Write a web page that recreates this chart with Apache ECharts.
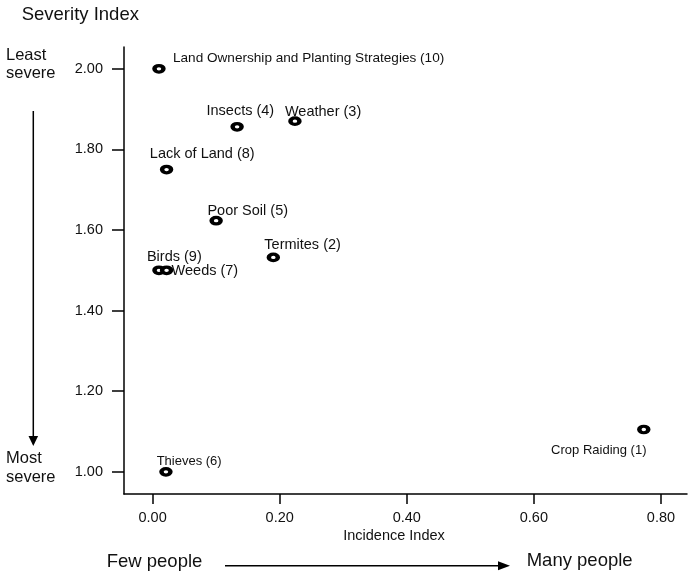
<!DOCTYPE html>
<html>
<head>
<meta charset="utf-8">
<script src="https://cdn.jsdelivr.net/npm/echarts@6/dist/echarts.min.js"></script>
<style>
html,body{margin:0;padding:0;background:#fff;}
#chart{width:695px;height:578px;}
</style>
</head>
<body>
<div id="chart"></div>
<script>
// ---- data ----
var names = ['Land Ownership and Planting Strategies (10)', 'Insects (4)', 'Weather (3)', 'Lack of Land (8)', 'Poor Soil (5)', 'Termites (2)', 'Birds (9)', 'Weeds (7)', 'Thieves (6)', 'Crop Raiding (1)'];
var incidence = [0.010, 0.133, 0.224, 0.022, 0.100, 0.190, 0.010, 0.022, 0.021, 0.773];
var severity = [2.00, 1.856, 1.870, 1.750, 1.623, 1.532, 1.500, 1.500, 1.000, 1.105];
var xTicks = [0, 0.2, 0.4, 0.6, 0.8];
var yTicks = [1.0, 1.2, 1.4, 1.6, 1.8, 2.0];

// ---- label styling (positions relative to marker) ----
var labelStyle = {
  'Land Ownership and Planting Strategies (10)': {offset: [14, -11], size: 13.6},
  'Insects (4)': {offset: [-30.6, -16], size: 14.5},
  'Weather (3)': {offset: [-10, -9.5], size: 14.5},
  'Lack of Land (8)': {offset: [-16.7, -16], size: 14.5},
  'Poor Soil (5)': {offset: [-8.7, -10], size: 14.5},
  'Termites (2)': {offset: [-9, -12.3], size: 14.5},
  'Birds (9)': {offset: [-12, -13.3], size: 14.5},
  'Weeds (7)': {offset: [5, 1], size: 14.5},
  'Thieves (6)': {offset: [-9.3, -10.6], size: 13},
  'Crop Raiding (1)': {offset: [2.7, 20.7], size: 13, align: 'right'}
};

var FONT = '"Liberation Sans", Arial, sans-serif';
var TXT = '#111';

var data = names.map(function (n, i) {
  var s = labelStyle[n];
  return {
    name: n,
    value: [incidence[i], severity[i]],
    label: {
      show: true,
      position: 'inside',
      formatter: n,
      align: s.align || 'left',
      verticalAlign: 'middle',
      offset: s.offset,
      fontSize: s.size,
      fontFamily: FONT,
      color: TXT
    }
  };
});

var chart = echarts.init(document.getElementById('chart'), null, {renderer: 'canvas'});
chart.setOption({
  backgroundColor: '#fff',
  animation: false,
  grid: {left: 124, top: 47, right: 8, bottom: 84},
  xAxis: {
    type: 'value',
    min: -0.045,
    max: 0.841,
    splitLine: {show: false},
    axisLine: {show: true, onZero: false, lineStyle: {color: '#000', width: 1.5}},
    axisTick: {show: true, length: 10, customValues: xTicks, lineStyle: {color: '#000', width: 1.5}},
    axisLabel: {
      customValues: xTicks, margin: 16,
      formatter: function (v) { return v.toFixed(2); },
      fontSize: 14.5, fontFamily: FONT, color: TXT
    }
  },
  yAxis: {
    type: 'value',
    min: 0.945,
    max: 2.054,
    splitLine: {show: false},
    axisLine: {show: true, onZero: false, lineStyle: {color: '#000', width: 1.5}},
    axisTick: {show: true, length: 12, customValues: yTicks, lineStyle: {color: '#000', width: 1.5}},
    axisLabel: {
      customValues: yTicks, margin: 21,
      formatter: function (v) { return v.toFixed(2); },
      fontSize: 14.5, fontFamily: FONT, color: TXT
    }
  },
  series: [{
    type: 'scatter',
    symbol: 'circle',
    symbolSize: [9, 6.5],
    itemStyle: {color: '#fff', borderColor: '#000', borderWidth: 3.8, opacity: 1},
    data: data,
    z: 5
  }],
  graphic: [
    {type: 'text', left: 21.7, top: 5, style: {text: 'Severity Index', font: '18.5px ' + FONT, fill: TXT}},
    {type: 'text', left: 6, top: 47, style: {text: 'Least', font: '16.5px ' + FONT, fill: TXT}},
    {type: 'text', left: 6, top: 65, style: {text: 'severe', font: '16.5px ' + FONT, fill: TXT}},
    {type: 'text', left: 6, top: 450, style: {text: 'Most', font: '16.5px ' + FONT, fill: TXT}},
    {type: 'text', left: 6, top: 469, style: {text: 'severe', font: '16.5px ' + FONT, fill: TXT}},
    {type: 'line', shape: {x1: 33.3, y1: 111, x2: 33.3, y2: 438}, style: {stroke: '#000', lineWidth: 1.5}},
    {type: 'polygon', shape: {points: [[28.5, 436], [38.1, 436], [33.3, 446]]}, style: {fill: '#000'}},
    {type: 'text', x: 394, y: 536, style: {text: 'Incidence Index', font: '14.5px ' + FONT, fill: TXT, align: 'center', verticalAlign: 'middle'}},
    {type: 'text', x: 106.7, y: 562, style: {text: 'Few people', font: '18.5px ' + FONT, fill: TXT, align: 'left', verticalAlign: 'middle'}},
    {type: 'text', x: 526.7, y: 561, style: {text: 'Many people', font: '18.5px ' + FONT, fill: TXT, align: 'left', verticalAlign: 'middle'}},
    {type: 'line', shape: {x1: 225, y1: 565.7, x2: 500, y2: 565.7}, style: {stroke: '#000', lineWidth: 1.5}},
    {type: 'polygon', shape: {points: [[498, 561.2], [498, 570.2], [510, 565.7]]}, style: {fill: '#000'}}
  ]
});
</script>
</body>
</html>
